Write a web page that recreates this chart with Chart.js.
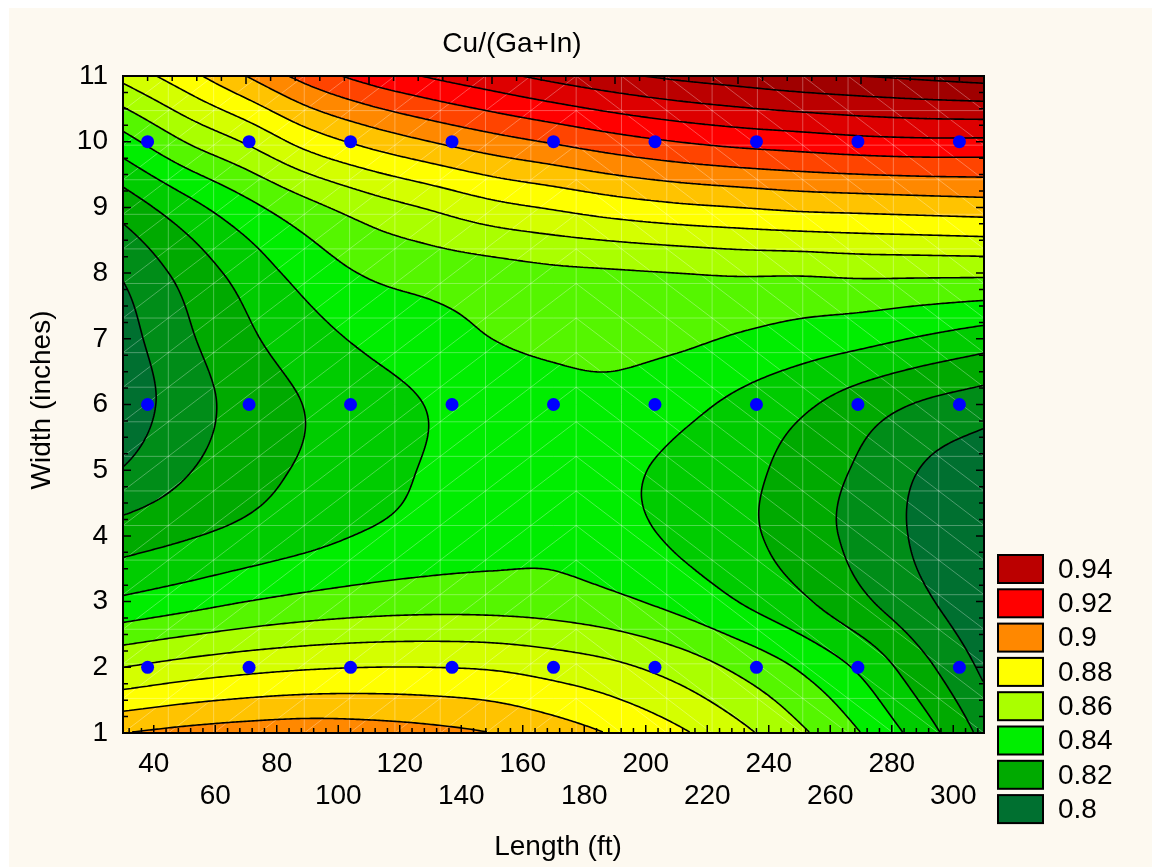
<!DOCTYPE html>
<html>
<head>
<meta charset="utf-8">
<script src="https://cdn.jsdelivr.net/npm/chart.js@4.4.0/dist/chart.umd.min.js"></script>
<style>
  html, body { margin: 0; padding: 0; background: #ffffff; }
  #cadre { position: absolute; left: 0; top: 0; width: 1152px; height: 867px; }
</style>
</head>
<body>
<div id="cadre"><canvas id="monGraphique" width="1152" height="867"></canvas></div>
<script>
// Points mesurés (Length en ft, Width en pouces)
const longueurs = [38, 71, 104, 137, 170, 203, 236, 269, 302];
const largeurs = [2, 6, 10];

// Grille de valeurs Cu/(Ga+In)
const grilleX = [30, 50, 70, 90, 110, 130, 150, 170, 190, 210, 230, 250, 270, 290, 310];
const grilleY = [1, 2, 3, 4, 5, 6, 7, 8, 9, 10, 11];
const z_y1  = [0.900, 0.903, 0.905, 0.906, 0.905, 0.903, 0.900, 0.895, 0.889, 0.882, 0.873, 0.862, 0.850, 0.835, 0.817];
const z_y2  = [0.870, 0.874, 0.877, 0.879, 0.880, 0.880, 0.879, 0.876, 0.872, 0.866, 0.858, 0.849, 0.838, 0.823, 0.808];
const z_y3  = [0.842, 0.846, 0.850, 0.853, 0.855, 0.856, 0.856, 0.855, 0.852, 0.847, 0.840, 0.832, 0.822, 0.812, 0.802];
const z_y4  = [0.825, 0.829, 0.833, 0.837, 0.841, 0.844, 0.846, 0.847, 0.8435, 0.8385, 0.833, 0.825, 0.817, 0.808, 0.801];
const z_y5  = [0.8105, 0.819, 0.826, 0.8315, 0.836, 0.841, 0.844, 0.845, 0.842, 0.838, 0.8335, 0.826, 0.8185, 0.8095, 0.804];
const z_y6  = [0.804, 0.815, 0.824, 0.8305, 0.836, 0.8405, 0.845, 0.847, 0.847, 0.843, 0.838, 0.832, 0.825, 0.819, 0.815];
const z_y7  = [0.806, 0.818, 0.828, 0.836, 0.842, 0.846, 0.850, 0.852, 0.853, 0.852, 0.849, 0.846, 0.843, 0.839, 0.835];
const z_y8  = [0.811, 0.823, 0.834, 0.844, 0.851, 0.854, 0.856, 0.858, 0.859, 0.860, 0.861, 0.861, 0.862, 0.862, 0.862];
const z_y9  = [0.824, 0.836, 0.847, 0.857, 0.865, 0.871, 0.877, 0.881, 0.885, 0.888, 0.890, 0.892, 0.893, 0.894, 0.895];
const z_y10 = [0.846, 0.860, 0.871, 0.884, 0.893, 0.900, 0.906, 0.911, 0.916, 0.920, 0.923, 0.925, 0.927, 0.928, 0.928];
const z_y11 = [0.873, 0.886, 0.900, 0.914, 0.924, 0.931, 0.937, 0.943, 0.948, 0.952, 0.955, 0.958, 0.960, 0.962, 0.964];
const grilleZ = [z_y1, z_y2, z_y3, z_y4, z_y5, z_y6, z_y7, z_y8, z_y9, z_y10, z_y11];

const ticksX = [40, 60, 80, 100, 120, 140, 160, 180, 200, 220, 240, 260, 280, 300];
const ticksY = [1, 2, 3, 4, 5, 6, 7, 8, 9, 10, 11];

const legendeLabels = ['0.94', '0.92', '0.9', '0.88', '0.86', '0.84', '0.82', '0.8'];
const legendeCouleurs = ['#BB0000', '#FF0000', '#FF8800', '#FFFF00', '#AAFF00', '#00EE00', '#00AA00', '#007030'];

// niveaux des isolignes, pas de 0.01
const niveaux = [0.79, 0.80, 0.81, 0.82, 0.83, 0.84, 0.85, 0.86, 0.87, 0.88, 0.89, 0.90, 0.91, 0.92, 0.93, 0.94, 0.95, 0.96, 0.97];

function hexVersRgb(h) {
  return [parseInt(h.substr(1, 2), 16), parseInt(h.substr(3, 2), 16), parseInt(h.substr(5, 2), 16)];
}

// couleur de chaque bande : légende aux niveaux pairs, mélange aux niveaux impairs
function couleursBandes() {
  const bas = legendeCouleurs.slice().reverse().map(hexVersRgb); // 0.80 .. 0.94
  const res = [[0, 88, 40]]; // < 0.80
  for (let b = 0; b <= 14; b++) {
    if (b % 2 === 0) {
      res.push(bas[b / 2]);
    } else {
      const a = bas[(b - 1) / 2], c = bas[(b + 1) / 2];
      res.push([(a[0] + c[0]) >> 1, (a[1] + c[1]) >> 1, (a[2] + c[2]) >> 1]);
    }
  }
  res.push([160, 0, 0]); // 0.95
  res.push([136, 0, 0]); // 0.96
  res.push([120, 0, 0]);
  return res;
}
const bandes = couleursBandes();

function indiceBande(v) {
  let b = Math.floor((v - 0.80) / 0.01 + 1e-9) + 1;
  return Math.max(0, Math.min(bandes.length - 1, b));
}

function cubique(p0, p1, p2, p3, t) {
  return p1 + 0.5 * t * (p2 - p0 + t * (2 * p0 - 5 * p1 + 4 * p2 - p3 + t * (3 * (p1 - p2) + p3 - p0)));
}

function lireGrille(i, j) {
  const nx = grilleX.length, ny = grilleY.length;
  // prolongement linéaire hors grille
  if (i < 0) return 2 * lireGrille(0, j) - lireGrille(1, j);
  if (i > nx - 1) return 2 * lireGrille(nx - 1, j) - lireGrille(nx - 2, j);
  if (j < 0) return 2 * lireGrille(i, 0) - lireGrille(i, 1);
  if (j > ny - 1) return 2 * lireGrille(i, ny - 1) - lireGrille(i, ny - 2);
  return grilleZ[j][i];
}

function valeur(x, y) {
  const nx = grilleX.length, ny = grilleY.length;
  let fx = (x - grilleX[0]) / (grilleX[1] - grilleX[0]);
  let fy = (y - grilleY[0]) / (grilleY[1] - grilleY[0]);
  fx = Math.max(0, Math.min(nx - 1, fx));
  fy = Math.max(0, Math.min(ny - 1, fy));
  const i = Math.min(Math.floor(fx), nx - 2), j = Math.min(Math.floor(fy), ny - 2);
  const tx = fx - i, ty = fy - j;
  const r = [];
  for (let m = -1; m <= 2; m++) {
    r.push(cubique(lireGrille(i - 1, j + m), lireGrille(i, j + m), lireGrille(i + 1, j + m), lireGrille(i + 2, j + m), tx));
  }
  return cubique(r[0], r[1], r[2], r[3], ty);
}

const pluginContours = {
  id: 'contours',
  beforeDraw(chart) {
    const c = chart.ctx;
    c.save();
    c.fillStyle = '#ffffff';
    c.fillRect(0, 0, chart.width, chart.height);
    c.fillStyle = '#FDF9F0';
    c.fillRect(9, 8, chart.width - 9, chart.height - 8);
    c.restore();
  },
  beforeDatasetsDraw(chart) {
    const c = chart.ctx;
    const area = chart.chartArea;
    const sx = chart.scales.x, sy = chart.scales.y;
    const L = Math.round(area.left), T = Math.round(area.top);
    const W = Math.round(area.right) - L, H = Math.round(area.bottom) - T;

    // remplissage pixel par pixel
    const img = c.createImageData(W, H);
    const xs = [], ys = [];
    for (let i = 0; i < W; i++) xs.push(sx.getValueForPixel(L + i + 0.5));
    for (let j = 0; j < H; j++) ys.push(sy.getValueForPixel(T + j + 0.5));
    for (let j = 0; j < H; j++) {
      for (let i = 0; i < W; i++) {
        const col = bandes[indiceBande(valeur(xs[i], ys[j]))];
        const k = (j * W + i) * 4;
        img.data[k] = col[0];
        img.data[k + 1] = col[1];
        img.data[k + 2] = col[2];
        img.data[k + 3] = 255;
      }
    }
    c.putImageData(img, L, T);

    // maillage clair
    c.save();
    c.strokeStyle = 'rgba(255,255,255,0.3)';
    c.lineWidth = 1;
    const n = 19;
    const mx = [], my = [];
    for (let k = 0; k <= n; k++) {
      mx.push(sx.getPixelForValue(sx.min + k * (sx.max - sx.min) / n));
      my.push(sy.getPixelForValue(sy.min + k * (sy.max - sy.min) / n));
    }
    c.beginPath();
    for (let k = 0; k <= n; k++) {
      c.moveTo(mx[k], area.top); c.lineTo(mx[k], area.bottom);
      c.moveTo(area.left, my[k]); c.lineTo(area.right, my[k]);
    }
    for (let a = 0; a < n; a++) {
      for (let b = 0; b < n; b++) {
        if (a < 10) { c.moveTo(mx[a], my[b]); c.lineTo(mx[a + 1], my[b + 1]); }
        else { c.moveTo(mx[a], my[b + 1]); c.lineTo(mx[a + 1], my[b]); }
      }
    }
    c.stroke();
    c.restore();

    // isolignes (marching squares)
    const s = 2;
    const nxp = Math.floor(W / s) + 1, nyp = Math.floor(H / s) + 1;
    const px = [], py = [];
    for (let i = 0; i < nxp; i++) px.push(Math.min(L + i * s, L + W));
    for (let j = 0; j < nyp; j++) py.push(Math.min(T + j * s, T + H));
    const vals = [];
    for (let j = 0; j < nyp; j++) {
      const yv = sy.getValueForPixel(py[j]);
      const ligne = [];
      for (let i = 0; i < nxp; i++) ligne.push(valeur(sx.getValueForPixel(px[i]), yv));
      vals.push(ligne);
    }
    c.save();
    c.beginPath();
    c.rect(area.left, area.top, area.width, area.height);
    c.clip();
    c.strokeStyle = '#000000';
    c.lineWidth = 1.6;
    c.lineJoin = 'round';
    c.beginPath();
    niveaux.forEach(niv => {
      for (let j = 0; j < nyp - 1; j++) {
        for (let i = 0; i < nxp - 1; i++) {
          const a = vals[j][i], b = vals[j][i + 1], d = vals[j + 1][i + 1], e = vals[j + 1][i];
          const pts = [];
          if ((a < niv) !== (b < niv)) pts.push([px[i] + (niv - a) / (b - a) * (px[i + 1] - px[i]), py[j]]);
          if ((b < niv) !== (d < niv)) pts.push([px[i + 1], py[j] + (niv - b) / (d - b) * (py[j + 1] - py[j])]);
          if ((e < niv) !== (d < niv)) pts.push([px[i] + (niv - e) / (d - e) * (px[i + 1] - px[i]), py[j + 1]]);
          if ((a < niv) !== (e < niv)) pts.push([px[i], py[j] + (niv - a) / (e - a) * (py[j + 1] - py[j])]);
          for (let p = 0; p + 1 < pts.length; p += 2) {
            c.moveTo(pts[p][0], pts[p][1]);
            c.lineTo(pts[p + 1][0], pts[p + 1][1]);
          }
        }
      }
    });
    c.stroke();
    c.restore();
  },
  afterDraw(chart) {
    const c = chart.ctx;
    const area = chart.chartArea;
    const sx = chart.scales.x, sy = chart.scales.y;
    c.save();

    // cadre
    c.strokeStyle = '#000000';
    c.lineWidth = 2;
    c.strokeRect(area.left, area.top, area.width, area.height);

    // graduations vers l'intérieur
    c.lineWidth = 1.5;
    c.beginPath();
    for (let v = 32; v <= 310; v += 4) {
      const p = sx.getPixelForValue(v);
      const lg = (v % 20 === 0) ? 8 : 5;
      c.moveTo(p, area.bottom); c.lineTo(p, area.bottom - lg);
    }
    for (let v = 30; v <= 310; v += 8) {
      const p = sx.getPixelForValue(v);
      const lg = ((v - 30) % 40 === 0) ? 8 : 5;
      c.moveTo(p, area.top); c.lineTo(p, area.top + lg);
    }
    for (let v = 1; v <= 11.001; v += 0.25) {
      const p = sy.getPixelForValue(v);
      const lg = (Math.abs(v - Math.round(v)) < 0.01) ? 8 : 5;
      c.moveTo(area.left, p); c.lineTo(area.left + lg, p);
      c.moveTo(area.right, p); c.lineTo(area.right - lg, p);
    }
    c.stroke();

    // titres
    c.fillStyle = '#000000';
    c.font = '28px "Liberation Sans", Arial, sans-serif';
    c.textAlign = 'center';
    c.textBaseline = 'alphabetic';
    c.fillText('Cu/(Ga+In)', 512, 52);
    c.fillText('Length (ft)', 558, 855);
    c.save();
    c.translate(50, 400);
    c.rotate(-Math.PI / 2);
    c.fillText('Width (inches)', 0, 0);
    c.restore();

    // légende
    c.textAlign = 'left';
    c.textBaseline = 'middle';
    legendeLabels.forEach((lab, i) => {
      const top = 555 + i * 34.3;
      c.fillStyle = legendeCouleurs[i];
      c.fillRect(998, top, 45, 28);
      c.strokeStyle = '#000000';
      c.lineWidth = 2;
      c.strokeRect(998, top, 45, 28);
      c.fillStyle = '#000000';
      c.fillText(lab, 1058, top + 15);
    });
    c.restore();
  }
};

const points = [];
largeurs.forEach(w => {
  longueurs.forEach(l => points.push({ x: l, y: w }));
});

Chart.defaults.font.family = '"Liberation Sans", Arial, sans-serif';
Chart.defaults.color = '#000000';

const ctx = document.getElementById('monGraphique').getContext('2d');
const monGraphique = new Chart(ctx, {
  type: 'scatter',
  data: {
    datasets: [{
      label: 'Mesures',
      data: points,
      pointRadius: 6.5,
      pointBackgroundColor: '#0000FF',
      pointBorderWidth: 0,
      borderColor: '#0000FF'
    }]
  },
  options: {
    responsive: false,
    animation: false,
    devicePixelRatio: 1,
    layout: { padding: { left: 9, right: 168, top: 76, bottom: 0 } },
    plugins: { legend: { display: false }, tooltip: { enabled: false } },
    scales: {
      x: {
        type: 'linear',
        min: 30,
        max: 310,
        afterBuildTicks: scale => { scale.ticks = ticksX.map(v => ({ value: v })); },
        afterFit: scale => { scale.height = 134; },
        grid: { display: false, drawTicks: false },
        border: { display: false },
        ticks: {
          padding: 15,
          maxRotation: 0,
          autoSkip: false,
          font: { size: 28, lineHeight: 1.16 },
          callback: (v, i) => (i % 2 === 0 ? [String(v), ''] : ['', String(v)])
        }
      },
      y: {
        type: 'linear',
        min: 1,
        max: 11,
        afterBuildTicks: scale => { scale.ticks = ticksY.map(v => ({ value: v })); },
        afterFit: scale => { scale.width = 114; },
        grid: { display: false, drawTicks: false },
        border: { display: false },
        ticks: { padding: 15, autoSkip: false, font: { size: 28 } }
      }
    }
  },
  plugins: [pluginContours]
});
</script>
</body>
</html>
